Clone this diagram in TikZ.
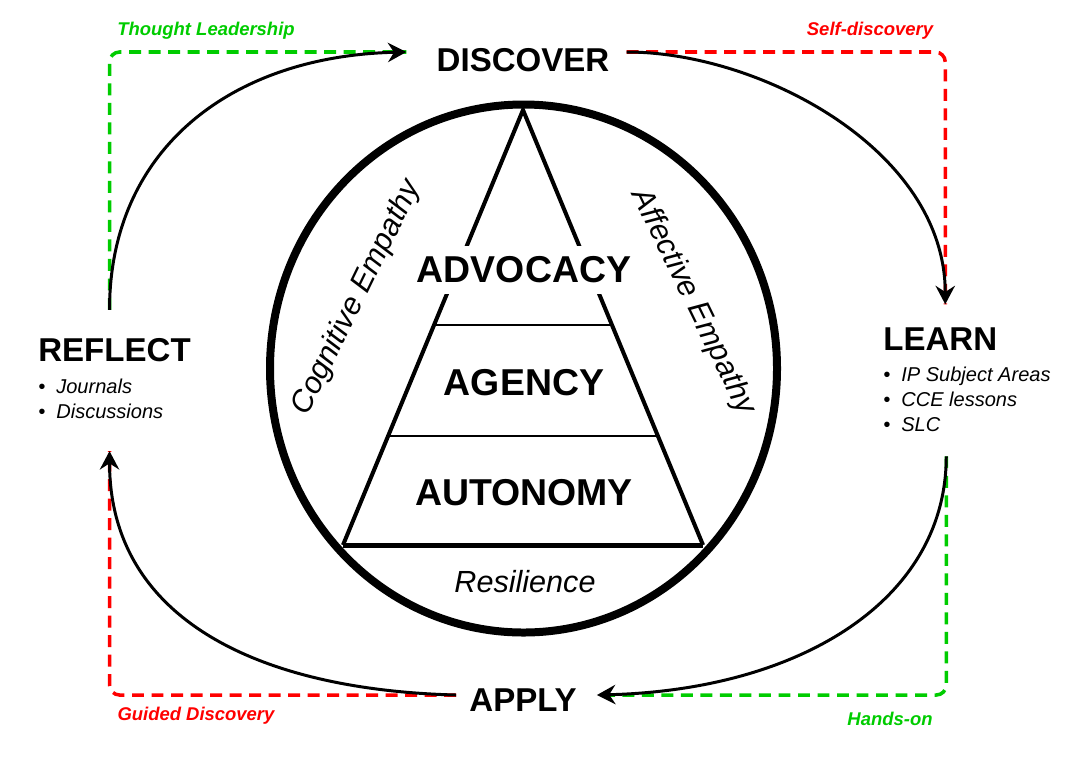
\documentclass[tikz,border=0pt]{standalone}
\usepackage{fontspec}
\setmainfont{Liberation Sans}
\usetikzlibrary{arrows.meta,calc}
\definecolor{leadgreen}{HTML}{00CC00}
\definecolor{selfred}{HTML}{FF0000}
\newcommand\bul{\makebox[3.6mm][l]{\textbullet}}

\begin{document}
\begin{tikzpicture}[x=0.2mm, y=-0.2mm,
  stage/.style={inner sep=0pt, font=\fontsize{18.8}{22}\selectfont\bfseries},
  items/.style={inner sep=0pt, align=left, font=\fontsize{11.4}{14.2}\selectfont\itshape},
  level/.style={fill=white, inner xsep=2pt, inner ysep=6.3pt, font=\fontsize{21.3}{25}\selectfont\bfseries},
  empathy/.style={inner sep=0pt, font=\fontsize{17.4}{20}\selectfont\itshape},
  tag/.style={inner sep=0pt, font=\fontsize{10.5}{12}\selectfont\bfseries\itshape},
  ring/.style={line width=4.55pt},
  side/.style={line width=2.3pt},
  flow/.style={line width=1.7pt, -{Stealth[length=10.5pt, width=11pt, inset=3.5pt]}},
  route/.style={line width=2pt, dash pattern=on 6.8pt off 4.3pt, rounded corners=5.7pt}]
  \useasboundingbox (0,0) rectangle (1080,757);

  \node[stage] (discover) at (523,60) {DISCOVER};
  \node[stage, anchor=west] (learn) at (883,339) {LEARN};
  \node[stage] (apply) at (523,700) {APPLY};
  \node[stage, anchor=west] (reflect) at (38,350) {REFLECT};
  \node[items, anchor=north west] (learnlist) at (883,367) {\bul IP Subject Areas\\ \bul CCE lessons\\ \bul SLC};
  \node[items, anchor=north west] (reflectlist) at (38,379) {\bul Journals\\ \bul Discussions};

  \draw[ring] (523.5,368.5) ellipse [x radius=253.5, y radius=264];
  \coordinate (apex) at (523,110);
  \coordinate (baseL) at (343,545);
  \coordinate (baseR) at (703,545);
  \draw[side] (baseL) -- (apex) -- (baseR);
  \draw[line width=2.85pt] (baseL) -- (baseR);
  \foreach \t in {0.494,0.749}
    \draw[line width=0.85pt] ($(apex)!\t!(baseL)$) -- ($(apex)!\t!(baseR)$);
  \node[level] (advocacy) at (524,270) {ADVOCACY};
  \node[level] (agency) at (524,383) {AGENCY};
  \node[level] (autonomy) at (524,493) {AUTONOMY};
  \node[empathy, rotate=64] (cognitive) at (357,298) {Cognitive Empathy};
  \node[empathy, rotate=-64] (affective) at (693,302) {Affective Empathy};
  \node[empathy] (resilience) at (525,582) {Resilience};

  \coordinate (dIn) at ($(discover.west)+(-30,-8)$);
  \coordinate (dOut) at ($(discover.east)+(17,-8)$);
  \coordinate (lIn) at ($(learn.north)+(5,-23)$);
  \coordinate (lOut) at ($(learn.north)+(6,129)$);
  \coordinate (aIn) at ($(apply.east)+(20,-5)$);
  \coordinate (aOut) at ($(apply.west)+(-13,-5)$);
  \coordinate (rIn) at ($(reflect.south)+(-5,89)$);
  \coordinate (rOut) at ($(reflect.north)+(-5,-28)$);

  \draw[route, leadgreen] (rOut) |- (dIn);
  \draw[route, selfred] (dOut) -| (lIn);
  \draw[route, leadgreen] (lOut) |- (aIn);
  \draw[route, selfred] (aOut) -| (rIn);

  \draw[flow] (rOut) .. controls +(0,-160) and +(-176,4) .. (dIn);
  \draw[flow] (dOut) .. controls +(134,0) and +(0,-154) .. (lIn);
  \draw[flow] (lOut) .. controls +(0,144) and +(203,-5) .. (aIn);
  \draw[flow] (aOut) .. controls +(-196,-5) and +(0,169) .. (rIn);

  \node[tag, text=leadgreen] (thoughttag) at (206,31) {Thought Leadership};
  \node[tag, text=selfred] (selftag) at (870,31) {Self-discovery};
  \node[tag, text=selfred] (guidedtag) at (196,716) {Guided Discovery};
  \node[tag, text=leadgreen] (handstag) at (890,719) {Hands-on};
\end{tikzpicture}
\end{document}
